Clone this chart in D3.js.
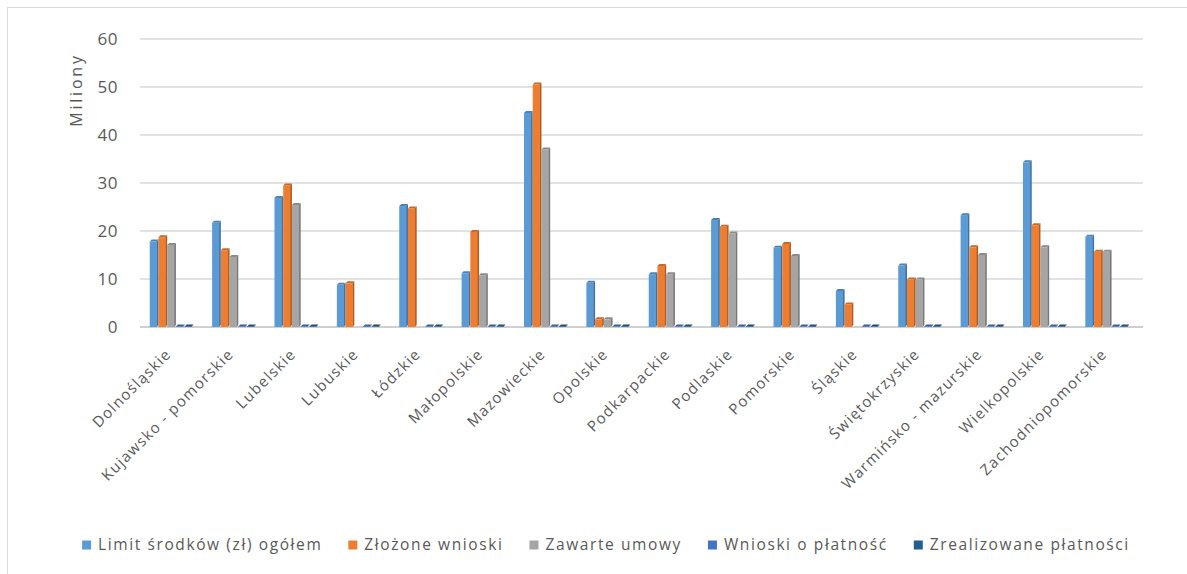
<!DOCTYPE html>
<html><head><meta charset="utf-8">
<script src="https://cdn.jsdelivr.net/npm/d3@7"></script>
<style>body{margin:0;background:#fff}svg{display:block}text{font-family:"Open Sans",sans-serif;fill:#595959}</style>
</head><body><svg id="c" width="1187" height="574"></svg>
<script>
const categories = ["Dolnośląskie","Kujawsko - pomorskie","Lubelskie","Lubuskie","Łódzkie","Małopolskie","Mazowieckie","Opolskie","Podkarpackie","Podlaskie","Pomorskie","Śląskie","Świętokrzyskie","Warmińsko - mazurskie","Wielkopolskie","Zachodniopomorskie"];
const seriesNames = ["Limit środków (zł) ogółem","Złożone wnioski","Zawarte umowy","Wnioski o płatność","Zrealizowane płatności"];
const limitVals   = [17.8,21.7,26.9,8.8,25.2,11.2,44.6,9.2,11.0,22.3,16.5,7.5,12.8,23.3,34.3,18.8];
const zlozoneVals = [18.7,16.0,29.5,9.1,24.7,19.8,50.5,1.6,12.7,20.9,17.3,4.7,9.9,16.6,21.2,15.7];
const zawarteVals = [17.1,14.6,25.4,0,0,10.8,37.0,1.6,11.0,19.5,14.8,0,9.9,15.0,16.6,15.7];
const wnioskiVals = [0.1,0.1,0.1,0.1,0.1,0.1,0.1,0.1,0.1,0.1,0.1,0.1,0.1,0.1,0.1,0.1];
const zrealVals   = [0.1,0.1,0.1,0.1,0.1,0.1,0.1,0.1,0.1,0.1,0.1,0.1,0.1,0.1,0.1,0.1];
const yTicks = [0,10,20,30,40,50,60];
const colors = ["#5b9bd5","#ed7d31","#a5a5a5","#4472c4","#255e91"];
const seriesVals = [limitVals,zlozoneVals,zawarteVals,wnioskiVals,zrealVals];

const svg = d3.select("#c");
svg.append("rect").attr("x",7.5).attr("y",7.5).attr("width",1200).attr("height",600).attr("fill","none").attr("stroke","#d9d9d9");

const y = d3.scaleLinear().domain([0,60]).range([327,39]);
const x0 = d3.scaleBand().domain(categories).range([141,1139]).padding(0);
const bw = x0.bandwidth();
const x1 = d3.scaleBand().domain(d3.range(5)).range([bw*0.14, bw*0.14 + bw*0.70]).padding(0);

svg.append("g").selectAll("line").data(yTicks).join("line")
  .attr("x1",140).attr("x2",1143).attr("y1",d=>y(d)).attr("y2",d=>y(d))
  .attr("stroke",d=>d===0?"#bfbfbf":"#d9d9d9").attr("stroke-width",1.5);

svg.append("g").selectAll("text").data(yTicks).join("text")
  .attr("x",118).attr("y",d=>y(d)).attr("dy","0.35em").attr("text-anchor","end")
  .style("font-size","17px").style("letter-spacing","0.5px").text(d=>d);

svg.append("text").attr("transform","translate(76,90) rotate(-90)").attr("text-anchor","middle")
  .attr("dy","0.35em").style("font-size","16px").style("letter-spacing","2.8px").text("Miliony");

const dep = 2;
const g = svg.append("g");
categories.forEach((c,i)=>{
  seriesVals.forEach((vals,s)=>{
    const v = vals[i];
    if (v <= 0) return;
    const bx = x0(c)+x1(s), w = x1.bandwidth(), top = y(v), base = y(0);
    const col = d3.color(colors[s]);
    g.append("polygon").attr("points",[[bx+w-dep,top],[bx+w,top-dep],[bx+w,base-dep],[bx+w-dep,base]].map(p=>p.join(",")).join(" "))
      .attr("fill",col.darker(0.9));
    g.append("polygon").attr("points",[[bx,top],[bx+dep,top-dep],[bx+w,top-dep],[bx+w-dep,top]].map(p=>p.join(",")).join(" "))
      .attr("fill",col.darker(0.5));
    g.append("rect").attr("x",bx).attr("y",top).attr("width",w-dep+0.5).attr("height",Math.max(0,base-top))
      .attr("fill",colors[s]);
  });
});

svg.append("g").selectAll("text").data(categories).join("text")
  .attr("transform",d=>`translate(${x0(d)+bw/2},355) rotate(-45)`)
  .attr("text-anchor","end").style("font-size","15px").style("letter-spacing","1.3px").text(d=>d);

const lg = svg.append("g");
const items = lg.selectAll("g").data(seriesNames).join("g");
items.append("rect").attr("width",9).attr("height",9).attr("y",-4.5).attr("fill",(d,i)=>colors[i]);
items.append("text").attr("x",16).attr("dy","0.35em").style("font-size","15.5px").style("letter-spacing","1.6px").text(d=>d);
let widths = []; items.each(function(){widths.push(this.getBBox().width);});
const gap = 26;
const total = d3.sum(widths)+gap*(widths.length-1);
let cx = 606 - total/2;
items.attr("transform",(d,i)=>{const t=`translate(${cx},545)`; cx+=widths[i]+gap; return t;});
</script></body></html>
